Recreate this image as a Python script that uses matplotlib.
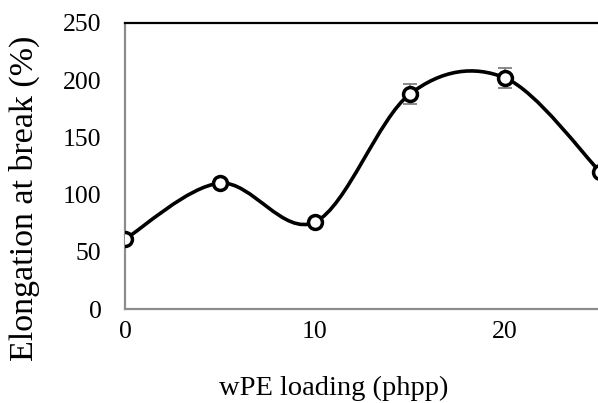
import numpy as np
import matplotlib
matplotlib.use("Agg")
import matplotlib.pyplot as plt
from matplotlib.path import Path
from matplotlib.patches import PathPatch

loading = [0, 5, 10, 15, 20, 25]
elongation = [61, 110, 76, 188, 202, 120]
err = [3, 3, 3, 9, 9, 3]

plt.rcParams['font.family'] = ['Liberation Serif', 'DejaVu Serif']

fig = plt.figure(figsize=(5.98, 4.03), dpi=100)
ax = fig.add_axes([125 / 598, 94 / 403, 475 / 598, 286 / 403])

# Excel style smoothed line: cubic bezier through the points
pts = np.column_stack([loading, elongation]).astype(float)
verts = [pts[0]]
codes = [Path.MOVETO]
n = len(pts)
for i in range(n - 1):
    p0 = pts[max(i - 1, 0)]
    p1 = pts[i]
    p2 = pts[i + 1]
    p3 = pts[min(i + 2, n - 1)]
    c1 = p1 + (p2 - p0) / 6
    c2 = p2 - (p3 - p1) / 6
    verts += [c1, c2, p2]
    codes += [Path.CURVE4] * 3
ax.add_patch(PathPatch(Path(verts, codes), facecolor='none', edgecolor='black', lw=2.6, zorder=2))

ax.errorbar(loading, elongation, yerr=err, fmt='none', ecolor='#808080', elinewidth=1.3,
            capsize=5, capthick=1.3, zorder=3)
ax.plot(loading, elongation, linestyle='none', marker='o', markersize=10,
        markerfacecolor='white', markeredgecolor='black', markeredgewidth=2.5, zorder=4)

ax.set_xlim(0, 25)
ax.set_ylim(0, 250)
ax.set_xticks([0, 10, 20])
ax.set_yticks([0, 50, 100, 150, 200, 250])
ax.tick_params(axis='both', length=0, labelsize=18.5)
ax.tick_params(axis='y', pad=17)
ax.tick_params(axis='x', pad=9)

ax.spines['right'].set_visible(False)
ax.spines['top'].set_color('black')
ax.spines['top'].set_linewidth(1.6)
for s in ['left', 'bottom']:
    ax.spines[s].set_color('#8c8c8c')
    ax.spines[s].set_linewidth(1.6)

ax.set_xlabel('wPE loading (phpp)', fontsize=20.5)
ax.set_ylabel('Elongation at break (%)', fontsize=24.5)
ax.xaxis.set_label_coords(0.44, -0.235)
ax.yaxis.set_label_coords(-0.179, 0.388)

fig.savefig('out.png', dpi=100)
